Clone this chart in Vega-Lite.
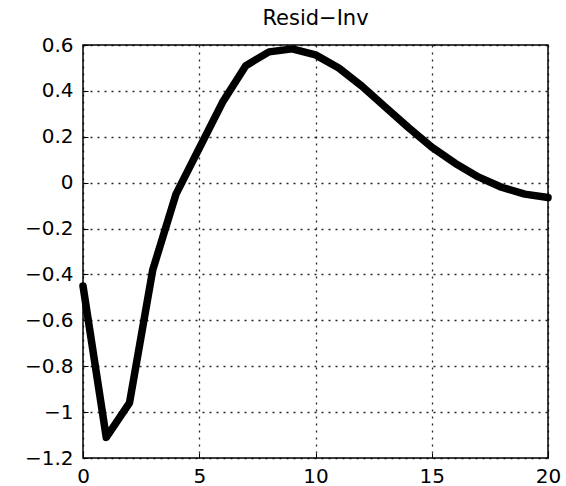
{
  "$schema": "https://vega.github.io/schema/vega-lite/v6.json",
  "width": 465,
  "height": 413,
  "autosize": "none",
  "padding": {"left": 83, "top": 45, "right": 18, "bottom": 28},
  "background": "white",
  "title": {"text": "Resid−Inv", "font": "DejaVu Sans", "fontSize": 21, "fontWeight": "normal", "color": "black", "offset": 6, "anchor": "middle"},
  "config": {"view": {"stroke": "black", "strokeWidth": 1.5}},
  "data": {"values": [
    {"h": 0, "v": -0.45},
    {"h": 1, "v": -1.11},
    {"h": 2, "v": -0.96},
    {"h": 3, "v": -0.38},
    {"h": 4, "v": -0.05},
    {"h": 5, "v": 0.15},
    {"h": 6, "v": 0.35},
    {"h": 7, "v": 0.51},
    {"h": 8, "v": 0.57},
    {"h": 9, "v": 0.583},
    {"h": 10, "v": 0.557},
    {"h": 11, "v": 0.5},
    {"h": 12, "v": 0.42},
    {"h": 13, "v": 0.33},
    {"h": 14, "v": 0.24},
    {"h": 15, "v": 0.155},
    {"h": 16, "v": 0.085},
    {"h": 17, "v": 0.025},
    {"h": 18, "v": -0.02},
    {"h": 19, "v": -0.05},
    {"h": 20, "v": -0.065}
  ]},
  "mark": {"type": "line", "color": "black", "strokeWidth": 7.5, "strokeJoin": "round", "strokeCap": "round", "clip": false},
  "encoding": {
    "x": {"field": "h", "type": "quantitative", "scale": {"domain": [0, 20], "nice": false, "zero": false},
      "axis": {"title": null, "values": [0, 5, 10, 15, 20], "grid": true, "gridColor": "black", "gridDash": [2, 5], "gridOpacity": 0.85, "gridWidth": 1.3,
        "domain": false, "tickSize": -5, "tickColor": "black", "labelFont": "DejaVu Sans", "labelFontSize": 20, "labelColor": "black", "labelPadding": 13, "labelFlush": false}},
    "y": {"field": "v", "type": "quantitative", "scale": {"domain": [-1.2, 0.6], "nice": false, "zero": false},
      "axis": {"title": null, "values": [-1.2, -1, -0.8, -0.6, -0.4, -0.2, 0, 0.2, 0.4, 0.6], "format": "~f", "grid": true, "gridColor": "black", "gridDash": [2, 5], "gridOpacity": 0.85, "gridWidth": 1.3,
        "domain": false, "tickSize": -5, "tickColor": "black", "labelFont": "DejaVu Sans", "labelFontSize": 20, "labelColor": "black", "labelPadding": 15, "labelFlush": false}}
  }
}
